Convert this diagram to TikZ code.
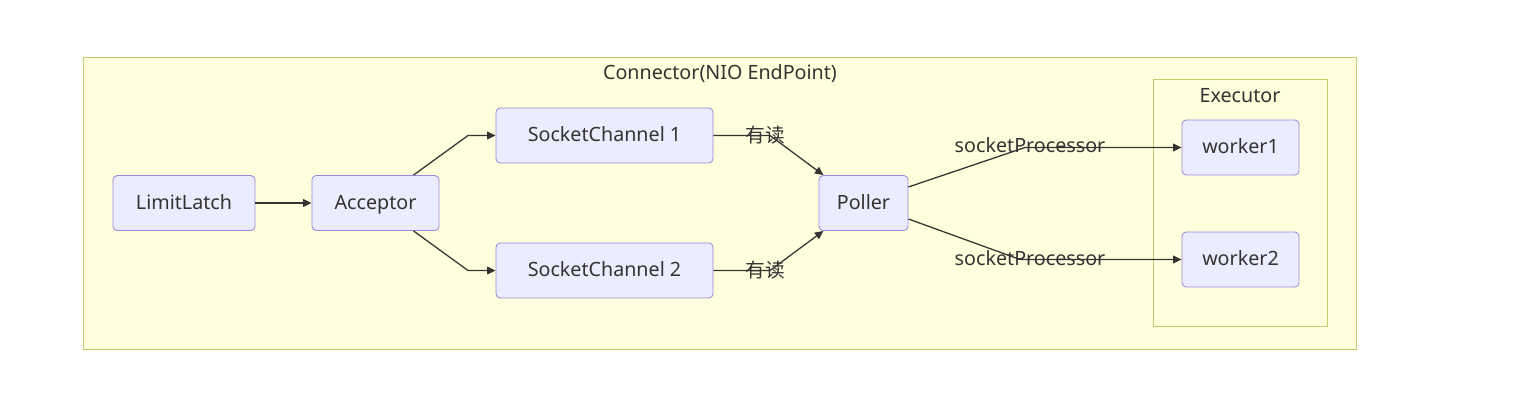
\documentclass[tikz,border=0pt]{standalone}
\usepackage{fontspec}
\setmainfont{Noto Sans}
\newfontfamily\cjk{Noto Sans CJK SC}
\usetikzlibrary{arrows.meta}
\definecolor{clusterfill}{HTML}{FFFFDE}
\definecolor{clusterline}{HTML}{C8C86E}
\definecolor{boxfill}{HTML}{ECECFF}
\definecolor{boxline}{HTML}{9C87DC}
\definecolor{ink}{HTML}{333333}

\begin{document}
\begin{tikzpicture}[x=0.025cm, y=-0.025cm,
    cluster/.style={draw=clusterline, fill=clusterfill, line width=0.6pt, inner sep=0pt},
    box/.style={draw=boxline, fill=boxfill, rounded corners=3pt, line width=0.6pt,
      minimum height=1.375cm, inner sep=0pt, text height=9pt, text depth=0pt,
      text=ink, font=\fontsize{14}{16}\selectfont},
    lbl/.style={text=ink, inner sep=0pt, font=\fontsize{14}{16}\selectfont},
    flow/.style={draw=ink, line width=0.9pt, -{Triangle[length=6pt,width=5.5pt]}}]
  \useasboundingbox (0,0) rectangle (1532,418);
  \fill[white] (0,0) rectangle (1532,418);

  % clusters
  \node[cluster, minimum width=31.8cm, minimum height=7.3cm] (connector) at (720,203) {};
  \node[lbl] (connectortitle) at (720,74) {Connector(NIO EndPoint)};
  \node[cluster, minimum width=4.35cm, minimum height=6.175cm] (executor) at (1240,202.5) {};
  \node[lbl] (executortitle) at (1240,96) {Executor};

  % nodes
  \node[box, minimum width=3.55cm] (limitlatch) at (184,203) {LimitLatch};
  \node[box, minimum width=3.175cm] (acceptor) at (375.5,203) {Acceptor};
  \node[box, minimum width=5.425cm] (channel1) at (604.5,135.5) {SocketChannel 1};
  \node[box, minimum width=5.425cm] (channel2) at (604.5,270.5) {SocketChannel 2};
  \node[box, minimum width=2.225cm] (poller) at (863.5,203) {Poller};
  \node[box, minimum width=2.925cm] (worker1) at (1240.5,147.5) {worker1};
  \node[box, minimum width=2.925cm] (worker2) at (1240.5,259.5) {worker2};

  % edge labels
  \node[lbl] (read1) at (765,135) {\cjk 有读};
  \node[lbl] (read2) at (765,270) {\cjk 有读};
  \node[lbl] (proc1) at (1030,145) {socketProcessor};
  \node[lbl] (proc2) at (1030,258) {socketProcessor};

  % edges
  \draw[flow] (limitlatch) -- (acceptor);
  \draw[flow] ([xshift=0.95cm]acceptor.north) -- (468,135.5) -- (channel1.west);
  \draw[flow] ([xshift=0.95cm]acceptor.south) -- (468,270.5) -- (channel2.west);
  \draw[flow] (channel1.east) -- (770,135.5) -- ([xshift=0.12cm]poller.north west);
  \draw[flow] (channel2.east) -- (770,270.5) -- ([xshift=0.12cm]poller.south west);
  \draw[flow] ([yshift=0.4cm]poller.east) -- (1025,147.5) -- (worker1.west);
  \draw[flow] ([yshift=-0.4cm]poller.east) -- (1020,259.5) -- (worker2.west);
\end{tikzpicture}
\end{document}
